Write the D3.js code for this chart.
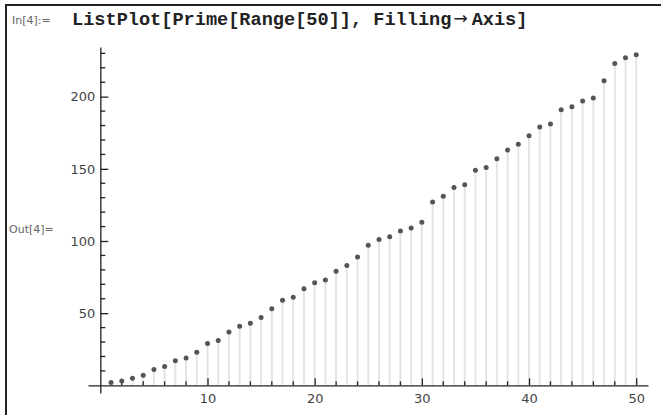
<!DOCTYPE html>
<html>
<head>
<meta charset="utf-8">
<script src="https://cdn.jsdelivr.net/npm/d3@7"></script>
<style>
	body { margin: 0; background: #fff; }
	svg { display: block; }
	.axis path, .axis line { stroke: #222; stroke-width: 1.3; }
	.axis text { font-family: "DejaVu Sans", sans-serif; font-size: 13px; fill: #444; }
	.label { font-family: "DejaVu Sans", sans-serif; font-size: 11px; fill: #666; }
	.code { font-family: "Liberation Mono", monospace; font-size: 18.6px; font-weight: bold; fill: #222; }
	.arrow { font-family: "DejaVu Sans", sans-serif; font-size: 17px; font-weight: normal; }
</style>
</head>
<body>
<script>
// first 50 primes, plotted against their index 1..50
var primes = [2, 3, 5, 7, 11, 13, 17, 19, 23, 29, 31, 37, 41, 43, 47, 53, 59, 61, 67, 71,
	73, 79, 83, 89, 97, 101, 103, 107, 109, 113, 127, 131, 137, 139, 149, 151, 157, 163, 167, 173,
	179, 181, 191, 193, 197, 199, 211, 223, 227, 229];

var xMajor = [10, 20, 30, 40, 50],
	xMinor = [2, 4, 6, 8, 12, 14, 16, 18, 22, 24, 26, 28, 32, 34, 36, 38, 42, 44, 46, 48],
	yMajor = [50, 100, 150, 200],
	yMinor = [10, 20, 30, 40, 60, 70, 80, 90, 110, 120, 130, 140, 160, 170, 180, 190, 210, 220, 230];

var width = 661,
	height = 415;

var svg = d3.select("body").append("svg")
	.attr("width", width)
	.attr("height", height);

/* notebook frame */

svg.append("line")
	.attr("x1", 6).attr("x2", width)
	.attr("y1", 5).attr("y2", 5)
	.attr("stroke", "#222").attr("stroke-width", 2);

svg.append("line")
	.attr("x1", 6).attr("x2", 6)
	.attr("y1", 4).attr("y2", height)
	.attr("stroke", "#222").attr("stroke-width", 2);

svg.append("text")
	.attr("class", "label")
	.attr("x", 12).attr("y", 24)
	.text("In[4]:=");

var code = svg.append("text")
	.attr("class", "code")
	.attr("x", 72).attr("y", 25);
code.append("tspan").text("ListPlot[Prime[Range[50]], Filling");
code.append("tspan").attr("class", "arrow").attr("dx", 2).attr("dy", -1).text("\u2192");
code.append("tspan").attr("dx", 4).attr("dy", 1).text("Axis]");

svg.append("text")
	.attr("class", "label")
	.attr("x", 9).attr("y", 233)
	.text("Out[4]=");

/* scales */

var x = d3.scaleLinear()
	.domain([-1.15, 51.1])
	.range([88, 648]);

var y = d3.scaleLinear()
	.domain([-5.3, 234.4])
	.range([393, 47]);

/* filling */

svg.append("g")
	.selectAll("line")
	.data(primes)
	.enter().append("line")
	.attr("x1", function(d, i) { return x(i + 1); })
	.attr("x2", function(d, i) { return x(i + 1); })
	.attr("y1", y(0))
	.attr("y2", function(d) { return y(d); })
	.attr("stroke", "#e4e4e4")
	.attr("stroke-width", 2);

/* axes */

var xAxis = svg.append("g")
	.attr("class", "axis")
	.attr("transform", "translate(0," + y(0) + ")");

xAxis.call(d3.axisBottom(x).tickValues(xMajor).tickSize(-7).tickSizeOuter(0).tickPadding(7));
xAxis.selectAll(".tick text").attr("y", 8);

xAxis.selectAll(".minor")
	.data(xMinor)
	.enter().append("line")
	.attr("class", "minor")
	.attr("x1", function(d) { return x(d); })
	.attr("x2", function(d) { return x(d); })
	.attr("y1", 0).attr("y2", -4);

var yAxis = svg.append("g")
	.attr("class", "axis")
	.attr("transform", "translate(" + x(0) + ",0)");

yAxis.call(d3.axisLeft(y).tickValues(yMajor).tickSize(-8).tickSizeOuter(0).tickPadding(5));

yAxis.selectAll(".minor")
	.data(yMinor)
	.enter().append("line")
	.attr("class", "minor")
	.attr("y1", function(d) { return y(d); })
	.attr("y2", function(d) { return y(d); })
	.attr("x1", 0).attr("x2", 5);

/* points */

svg.append("g")
	.selectAll("circle")
	.data(primes)
	.enter().append("circle")
	.attr("cx", function(d, i) { return x(i + 1); })
	.attr("cy", function(d) { return y(d); })
	.attr("r", 2.5)
	.attr("fill", "#555");
</script>
</body>
</html>
